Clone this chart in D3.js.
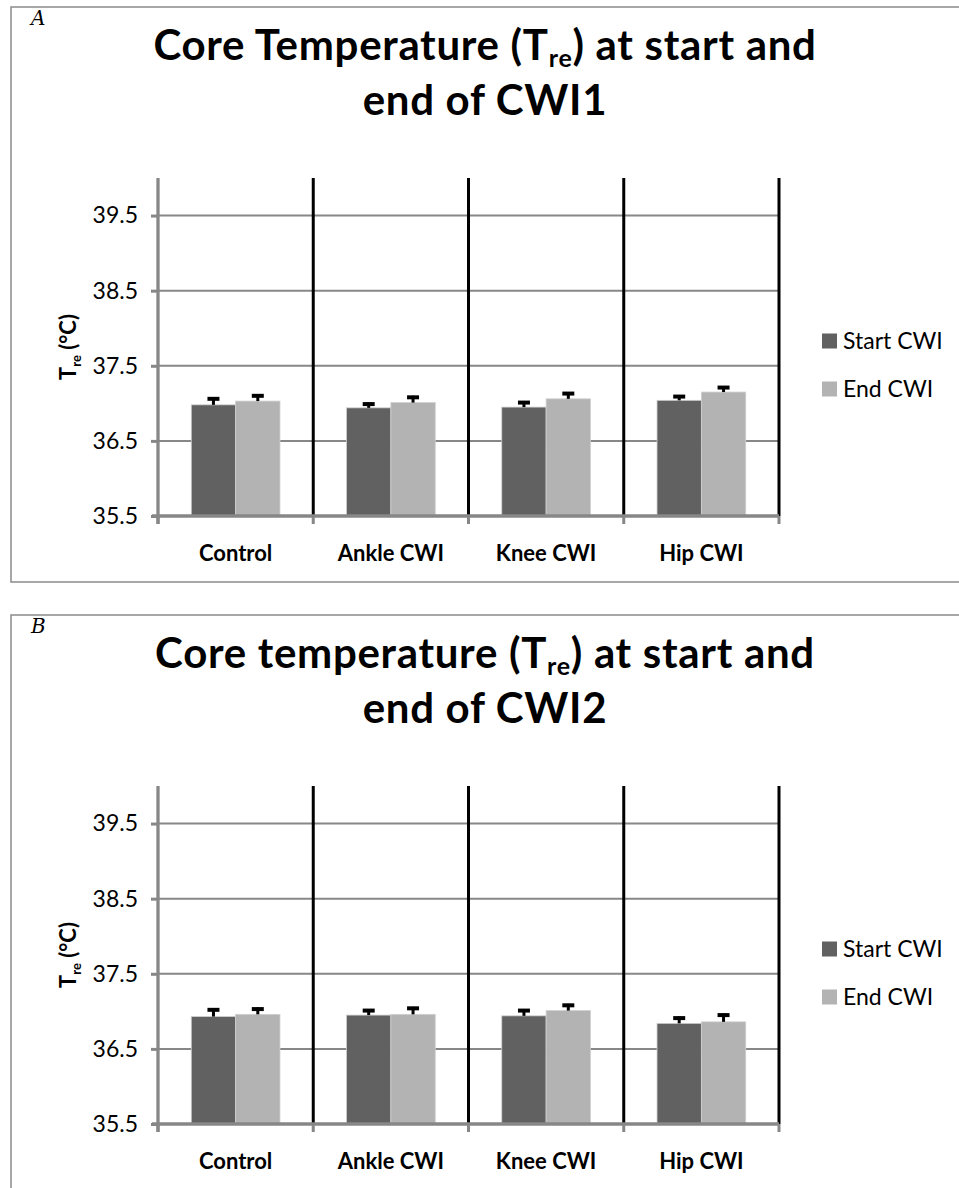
<!DOCTYPE html>
<html>
<head>
<meta charset="utf-8">
<script src="https://cdn.jsdelivr.net/npm/d3@7"></script>
<style>
  html, body { margin: 0; padding: 0; background: #fff; }
  svg { display: block; }
</style>
</head>
<body>
<svg id="chart" width="959" height="1188"></svg>
<script>
// ---- data ----
const categories = ["Control", "Ankle CWI", "Knee CWI", "Hip CWI"];
const seriesNames = ["Start CWI", "End CWI"];
const yTicks = [35.5, 36.5, 37.5, 38.5, 39.5];
const yDomain = [35.5, 40];

// CWI1 (panel A)
const startA = [36.98, 36.94, 36.95, 37.04];
const endA = [37.03, 37.01, 37.06, 37.15];
const startErrA = [0.10, 0.07, 0.08, 0.07];
const endErrA = [0.09, 0.09, 0.09, 0.08];

// CWI2 (panel B)
const startB = [36.93, 36.95, 36.94, 36.84];
const endB = [36.96, 36.96, 37.01, 36.86];
const startErrB = [0.11, 0.08, 0.09, 0.09];
const endErrB = [0.09, 0.10, 0.09, 0.11];

const panels = [
  { label: "A", title1: ["Core Temperature (T", "re", ") at start and"], title2: "end of CWI1",
    start: startA, end: endA, startErr: startErrA, endErr: endErrA },
  { label: "B", title1: ["Core temperature (T", "re", ") at start and"], title2: "end of CWI2",
    start: startB, end: endB, startErr: startErrB, endErr: endErrB }
];

const colors = { "Start CWI": "#616161", "End CWI": "#b3b3b3" };
const axisGrey = "#878787";
const FONT = "Lato, 'Open Sans', sans-serif";

const svg = d3.select("#chart");

panels.forEach((p, i) => {
  const oy = i * 608;
  const g = svg.append("g").attr("transform", `translate(0,${oy})`);

  // frame
  g.append("rect")
    .attr("x", 11).attr("y", 7).attr("width", 960).attr("height", i === 0 ? 575 : 700)
    .attr("fill", "none").attr("stroke", "#8a8a8a").attr("stroke-width", 1.5);

  // panel letter
  g.append("text").attr("x", 31).attr("y", 25)
    .attr("font-family", "'DejaVu Serif', serif").attr("font-style", "italic")
    .attr("font-size", 20).text(p.label);

  // title (two lines)
  const t1 = g.append("text").attr("x", 485).attr("y", 60)
    .attr("text-anchor", "middle").attr("font-family", FONT)
    .attr("font-weight", "bold").attr("font-size", 42).attr("letter-spacing", 0.7);
  t1.append("tspan").text(p.title1[0]);
  t1.append("tspan").attr("font-size", 25).attr("dy", 7).text(p.title1[1]);
  t1.append("tspan").attr("dy", -7).text(p.title1[2]);
  g.append("text").attr("x", 485).attr("y", 115)
    .attr("text-anchor", "middle").attr("font-family", FONT)
    .attr("font-weight", "bold").attr("font-size", 42).attr("letter-spacing", 0.7)
    .text(p.title2);

  // scales
  const x = d3.scaleBand().domain(categories).range([158, 779]).padding(0);
  const xs = d3.scaleBand().domain(seriesNames).range([0, x.bandwidth()])
    .paddingInner(0).paddingOuter(0.75);
  const y = d3.scaleLinear().domain(yDomain).range([516, 178]);

  // gridlines
  g.append("g").selectAll("line").data(yTicks.slice(1)).join("line")
    .attr("x1", 158).attr("x2", 779)
    .attr("y1", d => y(d)).attr("y2", d => y(d))
    .attr("stroke", axisGrey).attr("stroke-width", 2);

  // bars
  const rows = [];
  categories.forEach((c, k) => {
    rows.push({ cat: c, s: "Start CWI", v: p.start[k], e: p.startErr[k] });
    rows.push({ cat: c, s: "End CWI", v: p.end[k], e: p.endErr[k] });
  });
  g.append("g").selectAll("rect").data(rows).join("rect")
    .attr("x", d => x(d.cat) + xs(d.s))
    .attr("width", xs.bandwidth())
    .attr("y", d => y(d.v))
    .attr("height", d => y(yDomain[0]) - y(d.v))
    .attr("fill", d => colors[d.s])
    .attr("stroke", "#cfcfcf").attr("stroke-width", 0.8);

  // error bars (upper only)
  const eb = g.append("g").selectAll("g").data(rows).join("g");
  eb.append("line")
    .attr("x1", d => x(d.cat) + xs(d.s) + xs.bandwidth() / 2)
    .attr("x2", d => x(d.cat) + xs(d.s) + xs.bandwidth() / 2)
    .attr("y1", d => y(d.v)).attr("y2", d => y(d.v + d.e))
    .attr("stroke", "#000").attr("stroke-width", 3);
  eb.append("line")
    .attr("x1", d => x(d.cat) + xs(d.s) + xs.bandwidth() / 2 - 6)
    .attr("x2", d => x(d.cat) + xs(d.s) + xs.bandwidth() / 2 + 6)
    .attr("y1", d => y(d.v + d.e) + 1.5).attr("y2", d => y(d.v + d.e) + 1.5)
    .attr("stroke", "#000").attr("stroke-width", 4);

  // black separators between categories
  g.append("g").selectAll("line").data(categories.slice(1).map(c => x(c)).concat([x.range()[1]]))
    .join("line")
    .attr("x1", d => d).attr("x2", d => d)
    .attr("y1", y(yDomain[1])).attr("y2", y(yDomain[0]))
    .attr("stroke", "#000").attr("stroke-width", 3);

  // y axis
  const yAxis = g.append("g").attr("transform", "translate(158,0)")
    .call(d3.axisLeft(y).tickValues(yTicks).tickSize(7).tickPadding(13).tickFormat(d3.format(".1f")));
  yAxis.select(".domain").attr("stroke", axisGrey).attr("stroke-width", 3.3)
    .attr("d", `M0,${y(yDomain[1])}V${y(yDomain[0]) + 8}`);
  yAxis.selectAll(".tick line").attr("stroke", axisGrey).attr("stroke-width", 3);
  yAxis.selectAll(".tick text").attr("font-family", FONT).attr("font-size", 23).attr("fill", "#000");

  // x axis
  const xAxis = g.append("g").attr("transform", `translate(0,${y(yDomain[0])})`)
    .call(d3.axisBottom(x).tickSize(0).tickPadding(29));
  xAxis.select(".domain").attr("stroke", axisGrey).attr("stroke-width", 3.3)
    .attr("d", `M${152},0H${779}`);
  xAxis.selectAll(".tick text").attr("font-family", FONT).attr("font-weight", "bold")
    .attr("font-size", 22).attr("fill", "#000");
  xAxis.append("g").selectAll("line")
    .data(categories.map(c => x(c)).concat([x.range()[1]]))
    .join("line")
    .attr("x1", d => d).attr("x2", d => d).attr("y1", 0).attr("y2", 8)
    .attr("stroke", axisGrey).attr("stroke-width", 3);

  // y axis title
  const yt = g.append("text")
    .attr("transform", `translate(76,${(y(yDomain[0]) + y(yDomain[1])) / 2}) rotate(-90)`)
    .attr("text-anchor", "middle").attr("font-family", FONT)
    .attr("font-weight", "bold").attr("font-size", 22);
  yt.append("tspan").text("T");
  yt.append("tspan").attr("font-size", 13).attr("dy", 5).text("re");
  yt.append("tspan").attr("dy", -5).text(" (°C)");

  // legend
  const lg = g.append("g").selectAll("g").data(seriesNames).join("g")
    .attr("transform", (d, k) => `translate(822,${341 + k * 48})`);
  lg.append("rect").attr("x", 0).attr("y", -7.5).attr("width", 15).attr("height", 15)
    .attr("fill", d => colors[d]);
  lg.append("text").attr("x", 21).attr("y", 0).attr("dy", "0.36em")
    .attr("font-family", FONT).attr("font-size", 23).text(d => d);
});
</script>
</body>
</html>
